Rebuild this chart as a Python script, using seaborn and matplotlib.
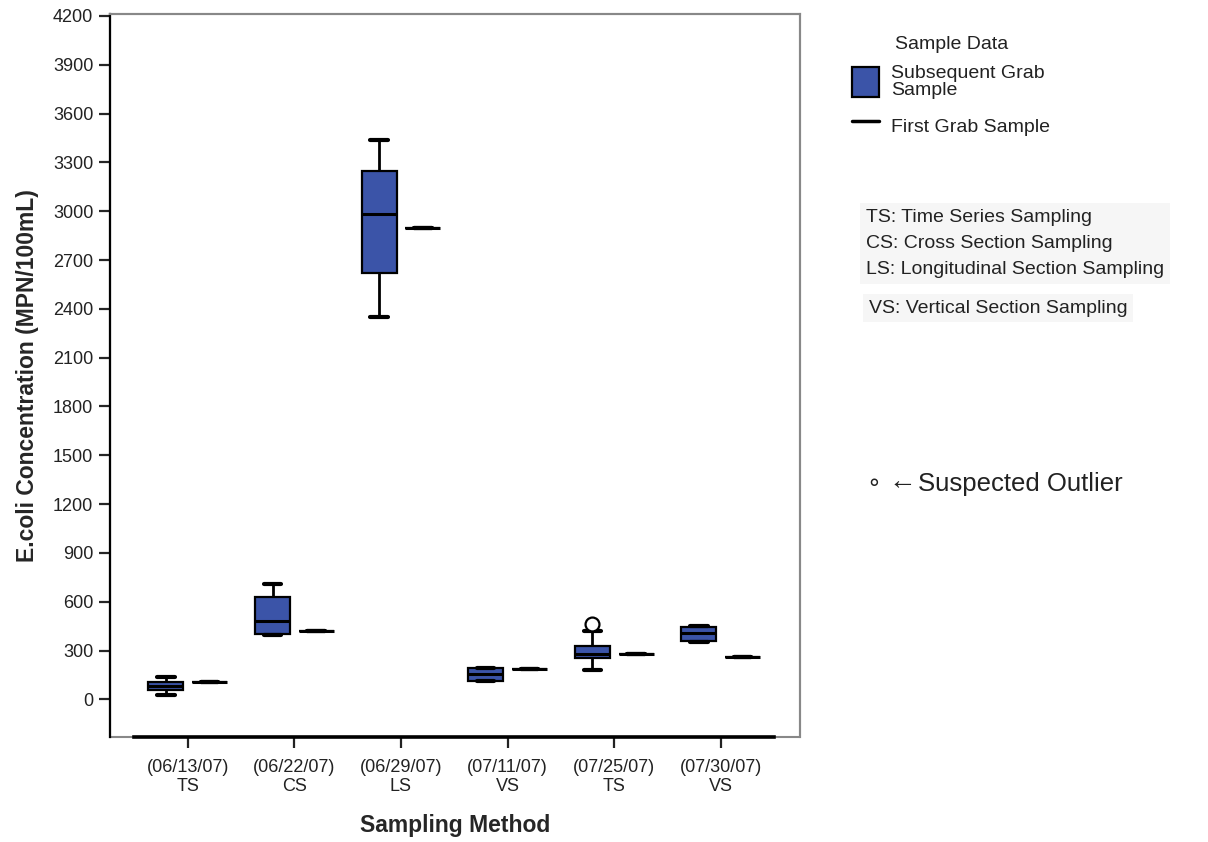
import matplotlib
matplotlib.use("Agg")
import matplotlib.pyplot as plt
import seaborn as sns
import pandas as pd
from matplotlib.patches import Patch
from matplotlib.lines import Line2D

# ---------------- data ----------------
categories = ["(06/13/07)\nTS", "(06/22/07)\nCS", "(06/29/07)\nLS",
              "(07/11/07)\nVS", "(07/25/07)\nTS", "(07/30/07)\nVS"]
# subsequent grab samples (values chosen to reproduce box/whisker extents)
sub_ts1 = [25, 55, 80, 104, 135]
sub_cs = [395, 400, 480, 626, 706]
sub_ls = [2350, 2620, 2982, 3245, 3436]
sub_vs1 = [110, 112, 153, 190, 192]
sub_ts2 = [178, 230, 251, 265, 276, 300, 325, 417, 460]
sub_vs2 = [350, 356, 405, 442, 448]
subsequent = [sub_ts1, sub_cs, sub_ls, sub_vs1, sub_ts2, sub_vs2]
# first grab sample (single value per date)
first_grab = [108, 417, 2896, 184, 276, 258]

yticks = list(range(0, 4201, 300))
hue_sub = "Subsequent Grab Sample"
hue_first = "First Grab Sample"

rows = []
for cat, vals, fg in zip(categories, subsequent, first_grab):
    for v in vals:
        rows.append({"method": cat, "sample": hue_sub, "conc": v})
    rows.append({"method": cat, "sample": hue_first, "conc": fg})
df = pd.DataFrame(rows)

# ---------------- plot ----------------
sns.set_theme(style="white")
plt.rcParams["font.family"] = ["Liberation Sans", "DejaVu Sans"]

fig = plt.figure(figsize=(12.08, 8.42), dpi=100)
ax = fig.add_axes([0.091, 0.125, 0.571, 0.858])

box_blue = "#3b54a8"
sns.boxplot(data=df, x="method", y="conc", hue="sample", order=categories,
            hue_order=[hue_sub, hue_first],
            palette={hue_sub: box_blue, hue_first: "black"}, saturation=1,
            width=0.82, gap=0.2, linecolor="black", linewidth=1.6,
            whis=1.5, legend=False, ax=ax,
            flierprops=dict(marker="o", markerfacecolor="white",
                            markeredgecolor="black", markersize=10,
                            markeredgewidth=1.6),
            medianprops=dict(linewidth=2.2, color="black"),
            whiskerprops=dict(linewidth=2.0),
            capprops=dict(linewidth=3.0))

ax.set_xlim(-0.73, 5.74)
ax.set_ylim(-230, 4210)
ax.set_yticks(yticks)
ax.set_yticklabels([str(t) for t in yticks], fontsize=13, color="#222222")
ax.tick_params(axis="x", labelsize=13, colors="#222222", length=8, width=1.6,
               direction="out", bottom=True, pad=8)
ax.tick_params(axis="y", length=8, width=1.6, direction="out", left=True, pad=4)

for lab in ax.get_xticklabels():
    lab.set_linespacing(1.15)

ax.set_xlabel("Sampling Method", fontsize=16.5, fontweight="bold", labelpad=14)
ax.set_ylabel("E.coli Concentration (MPN/100mL)", fontsize=16.5, fontweight="bold",
              labelpad=10)

for s in ["top", "right"]:
    ax.spines[s].set_color("#888888")
    ax.spines[s].set_linewidth(1.5)
ax.spines["left"].set_color("black")
ax.spines["left"].set_linewidth(1.6)
ax.spines["bottom"].set_color("black")
ax.spines["bottom"].set_linewidth(2.6)
ax.spines["bottom"].set_bounds(-0.5, 5.5)
ax.patch.set_edgecolor("#888888")
ax.patch.set_linewidth(1.5)

# legend
handles = [Patch(facecolor=box_blue, edgecolor="black", linewidth=1.6),
           Line2D([0], [0], color="black", linewidth=2.5)]
leg = fig.legend(handles, ["Subsequent Grab\nSample", "First Grab Sample"],
                 title="Sample Data", loc="upper left",
                 bbox_to_anchor=(0.691, 0.978), frameon=False,
                 fontsize=14, title_fontsize=14, handlelength=1.4,
                 handleheight=2.0, handletextpad=0.6, labelspacing=0.6)
leg.get_title().set_color("#222222")
for t in leg.get_texts():
    t.set_color("#222222")
    t.set_linespacing(1.0)

# annotation text panel
notes = ["TS: Time Series Sampling", "CS: Cross Section Sampling",
         "LS: Longitudinal Section Sampling"]
fig.text(0.717, 0.752, "\n".join(notes), fontsize=14, color="#222222",
         va="top", ha="left", linespacing=1.7,
         bbox=dict(facecolor="#f6f6f6", edgecolor="none", pad=4))
fig.text(0.719, 0.634, "VS: Vertical Section Sampling", fontsize=14,
         color="#222222", va="center", ha="left",
         bbox=dict(facecolor="#f6f6f6", edgecolor="none", pad=4))
fig.text(0.717, 0.425, "\u2218", fontsize=17, color="#222222", va="center",
         ha="left")
fig.text(0.735, 0.427, "\u2190", fontsize=20, color="#222222", va="center",
         ha="left")
fig.text(0.76, 0.425, "Suspected Outlier", fontsize=18.5,
         color="#222222", va="center", ha="left")

fig.savefig("out.png", dpi=100, facecolor="white")
